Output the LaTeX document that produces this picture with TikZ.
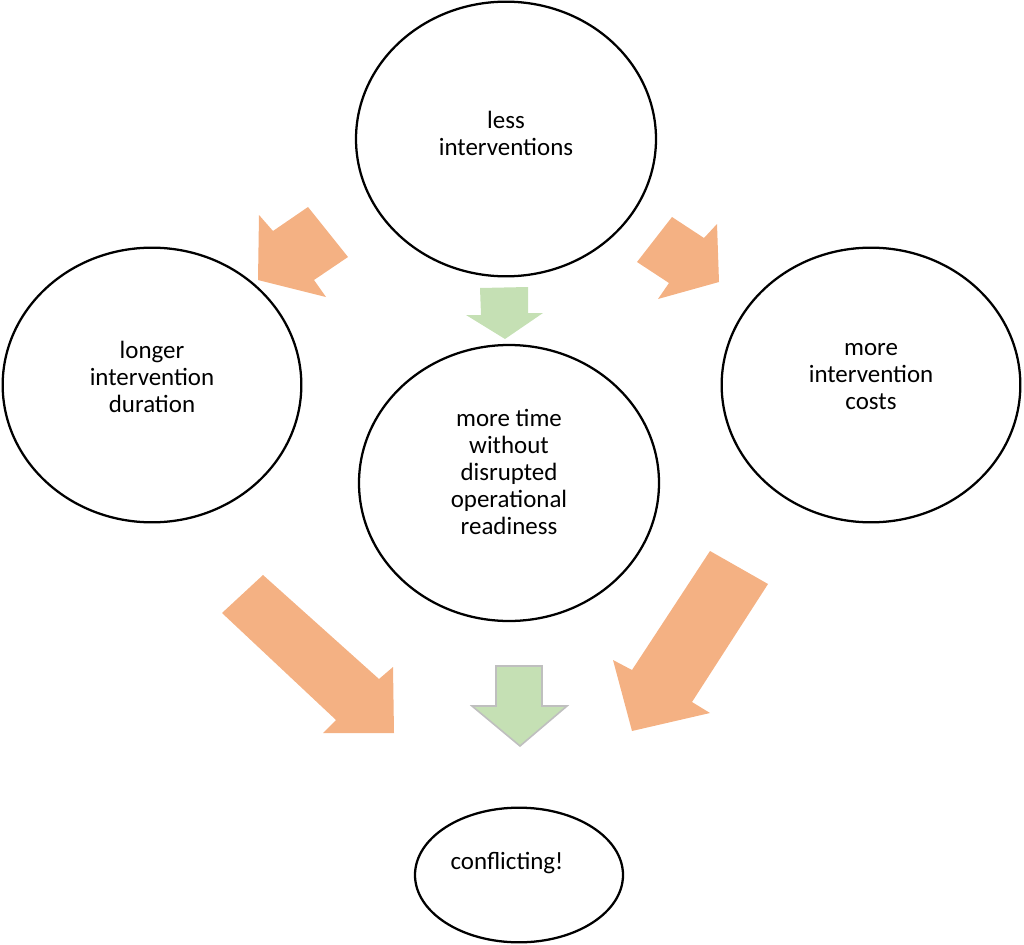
\documentclass[tikz,border=0pt]{standalone}
\usepackage{fontspec}
\setmainfont{Carlito}
\usetikzlibrary{shapes.geometric}
\definecolor{peach}{HTML}{F4B183}
\definecolor{sage}{HTML}{C5E0B4}
\definecolor{rim}{HTML}{BFBFBF}
\begin{document}
\begin{tikzpicture}[x=.75pt, y=-.75pt,
  bubble/.style={draw, line width=1.7pt, ellipse, inner sep=0pt},
  txt/.style={align=center, font=\fontsize{18.7}{20.25}\selectfont}]
\useasboundingbox (0,0) rectangle (1024,945);

\foreach \n/\x/\y/\w/\h in {less/506/139/225/206, longer/152/385/224/206,
  costs/871/385/224/206, time/509/483/225/207, conf/519/875/156/101}
{
    \node[bubble, minimum width=\w pt, minimum height=\h pt] (\n) at (\x,\y) {};
}

\node[txt] (lessT) at (506,133) {less\\interventions};
\node[txt] (longerT) at (152,377) {longer\\intervention\\duration};
\node[txt] (costsT) at (871,377) {more\\intervention\\costs};
\node[txt] (timeT) at (509,472) {more time\\without\\disrupted\\operational\\readiness};
\node[txt] (confT) at (507,863) {conflicting!};

% orange arrows
\fill[peach](308,207)--(348,257)--(314,280)--(326,297)--(258,280)--(259,215)--(273,231)--cycle;
\fill[peach](672,217)--(704,238)--(717,224)--(719,282)--(658,299)--(669,283)--(637,262)--cycle;
\fill[peach](263,575)--(379,679)--(393,667)--(394,733)--(323,733)--(336,720)--(222,613)--cycle;
\fill[peach](710,551)--(768,584)--(692,702)--(710,713)--(632,731)--(613,660)--(632,670)--cycle;

% green arrows
\fill[sage](480,288)--(528,287)--(528,313)--(543,313)--(505,339)--(466,315)--(481,315)--cycle;
\filldraw[fill=sage, draw=rim, line width=1.2pt](496,666)--(542,666)--(542,706)--(567,706)--(520,746)--(472,706)--(496,706)--cycle;

\end{tikzpicture}
\end{document}
